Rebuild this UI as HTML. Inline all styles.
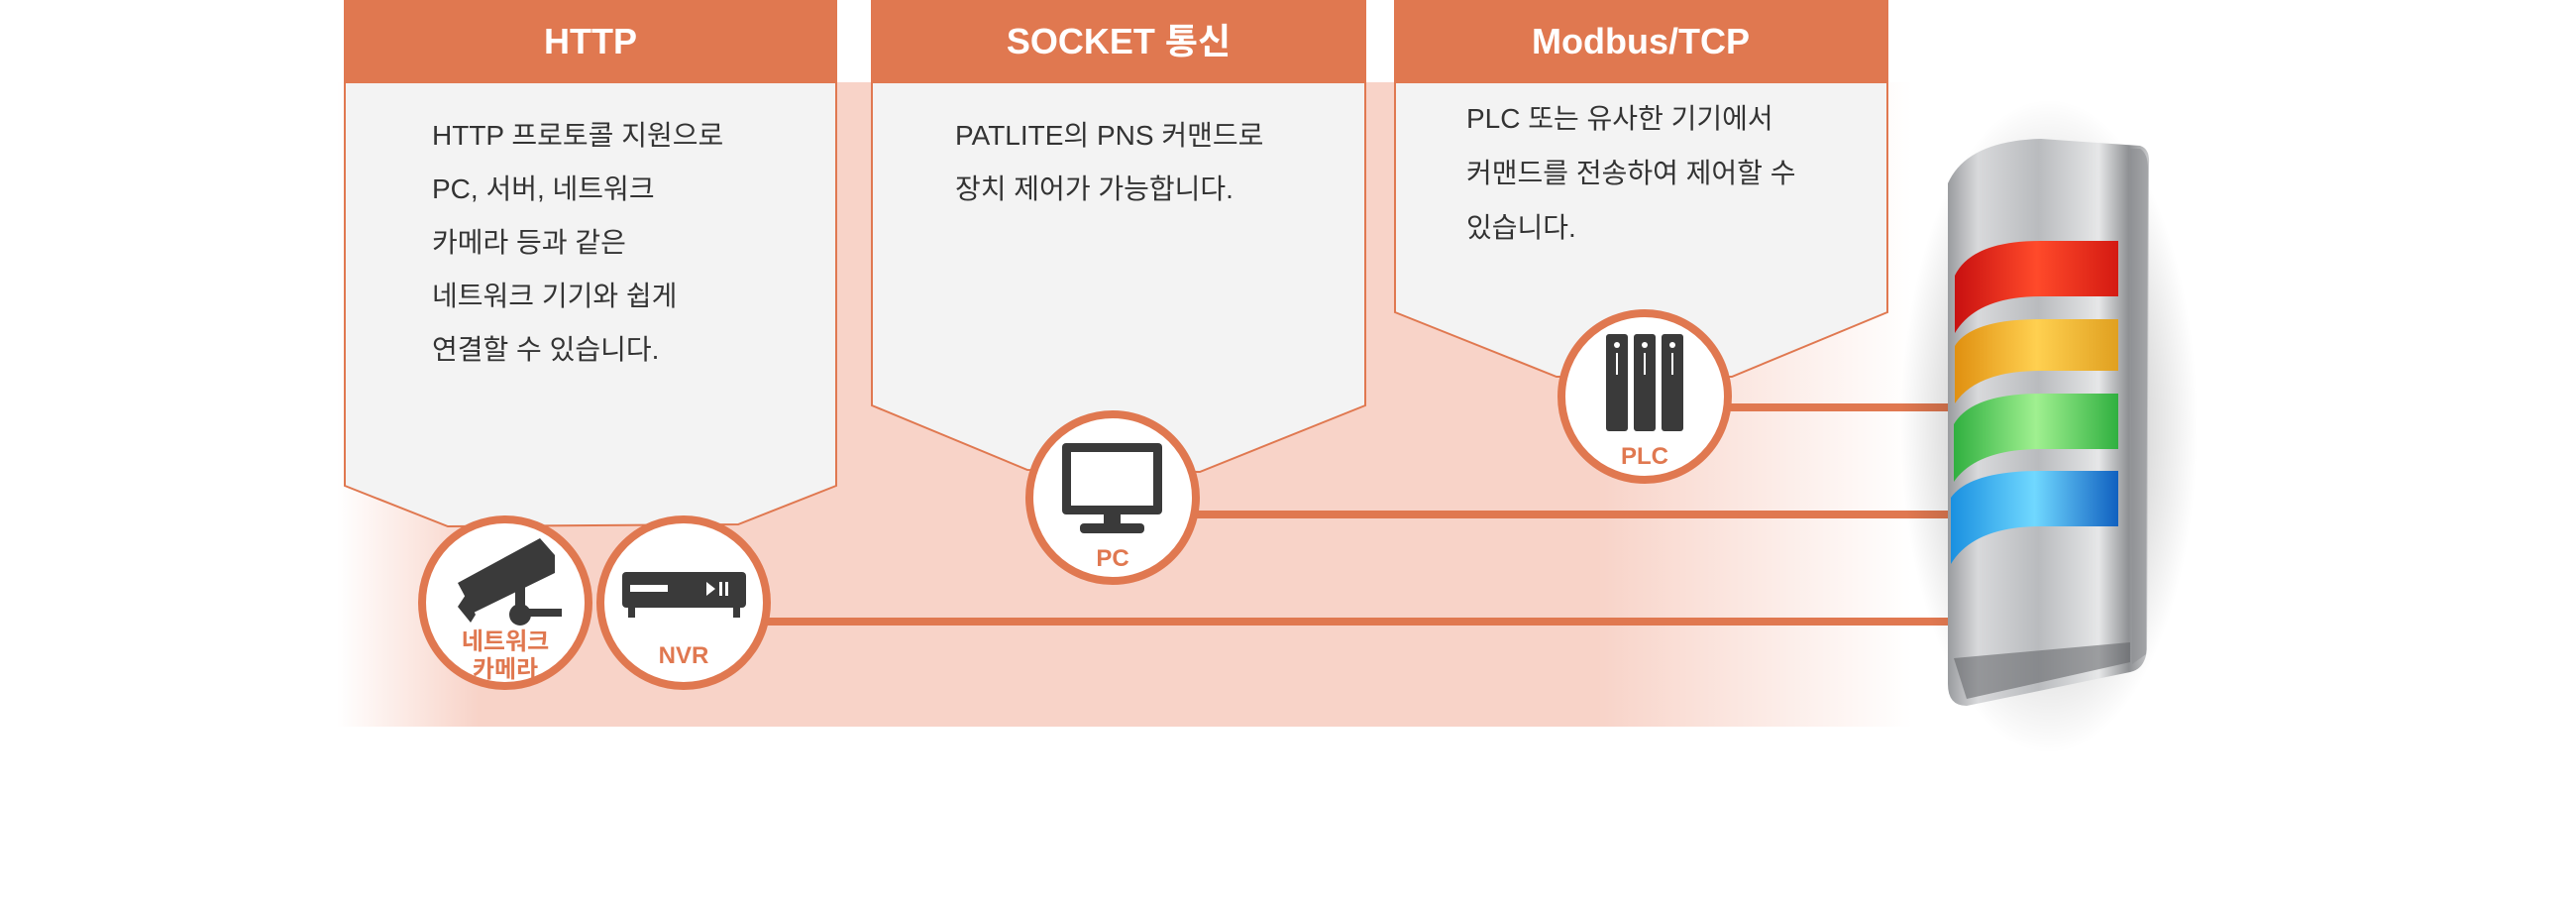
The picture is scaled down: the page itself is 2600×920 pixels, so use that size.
<!DOCTYPE html>
<html><head><meta charset="utf-8"><style>
html,body{margin:0;padding:0;background:#fff;}
svg{display:block;}
text{font-family:"Liberation Sans","Noto Sans CJK KR",sans-serif;}
</style></head><body>
<svg width="2600" height="920" viewBox="0 0 2600 920" xmlns="http://www.w3.org/2000/svg">
<defs>
<linearGradient id="pk" x1="0" x2="1" y1="0" y2="0">
<stop offset="0" stop-color="#f8d3c8" stop-opacity="0"/>
<stop offset="0.09" stop-color="#f8d3c8" stop-opacity="1"/>
<stop offset="0.8" stop-color="#f8d3c8" stop-opacity="1"/>
<stop offset="1" stop-color="#f8d3c8" stop-opacity="0"/>
</linearGradient>
<radialGradient id="sh" cx="0.5" cy="0.5" r="0.5">
<stop offset="0.6" stop-color="#000" stop-opacity="0.16"/>
<stop offset="1" stop-color="#000" stop-opacity="0"/>
</radialGradient>
<linearGradient id="met" x1="0" x2="1">
<stop offset="0" stop-color="#9a9c9f"/><stop offset="0.15" stop-color="#d8d9db"/>
<stop offset="0.45" stop-color="#b9bbbe"/><stop offset="0.75" stop-color="#e6e7e8"/>
<stop offset="0.9" stop-color="#8e9093"/><stop offset="1" stop-color="#c9cacc"/>
</linearGradient>
<linearGradient id="red" x1="0" x2="1"><stop offset="0" stop-color="#c81010"/><stop offset="0.5" stop-color="#ff4a2a"/><stop offset="1" stop-color="#d41a12"/></linearGradient>
<linearGradient id="amb" x1="0" x2="1"><stop offset="0" stop-color="#e09010"/><stop offset="0.5" stop-color="#ffd050"/><stop offset="1" stop-color="#e0a020"/></linearGradient>
<linearGradient id="grn" x1="0" x2="1"><stop offset="0" stop-color="#30b040"/><stop offset="0.5" stop-color="#a0f090"/><stop offset="1" stop-color="#30b040"/></linearGradient>
<linearGradient id="blu" x1="0" x2="1"><stop offset="0" stop-color="#1a90e0"/><stop offset="0.5" stop-color="#70d8ff"/><stop offset="1" stop-color="#1060c0"/></linearGradient>
</defs>

<rect x="340" y="83" width="1590" height="650" fill="url(#pk)"/>

<g stroke="#e07850" stroke-width="2" fill="#f3f3f3">
<polygon points="348,83 844,83 844,490 745,529 452,531 348,490"/>
<polygon points="880,83 1378,83 1378,409 1211,476 1037,474 880,409"/>
<polygon points="1408,83 1905,83 1905,315 1748,380 1571,380 1408,315"/>
</g>
<g fill="#e07850">
<rect x="347" y="0" width="498" height="84"/>
<rect x="879" y="0" width="500" height="84"/>
<rect x="1407" y="0" width="499" height="84"/>
</g>
<g fill="#fff" font-weight="bold" font-size="36" text-anchor="middle">
<text x="596" y="54">HTTP</text>
<text x="1129" y="54">SOCKET 통신</text>
<text x="1656" y="54">Modbus/TCP</text>
</g>
<g fill="#333" font-size="28">
<text x="436" y="146">HTTP 프로토콜 지원으로</text>
<text x="436" y="200">PC, 서버, 네트워크</text>
<text x="436" y="254">카메라 등과 같은</text>
<text x="436" y="308">네트워크 기기와 쉽게</text>
<text x="436" y="362">연결할 수 있습니다.</text>
<text x="964" y="146">PATLITE의 PNS 커맨드로</text>
<text x="964" y="200">장치 제어가 가능합니다.</text>
<text x="1480" y="129">PLC 또는 유사한 기기에서</text>
<text x="1480" y="184">커맨드를 전송하여 제어할 수</text>
<text x="1480" y="239">있습니다.</text>
</g>

<g stroke="#e07850" stroke-width="8">
<line x1="1740" y1="411" x2="1975" y2="411"/>
<line x1="1200" y1="519" x2="1972" y2="519"/>
<line x1="770" y1="627" x2="1968" y2="627"/>
</g>

<g fill="#fff" stroke="#e07850" stroke-width="8">
<circle cx="510" cy="608" r="84"/>
<circle cx="690" cy="608" r="84"/>
<circle cx="1123" cy="502" r="84"/>
<circle cx="1660" cy="400" r="84"/>
</g>

<g fill="#3a3a3a">
<polygon points="462,588 545,543 560,560 560,578 478,618"/>
<polygon points="470,600 480,620 475,628 462,612"/>
<rect x="520" y="590" width="10" height="28"/>
<circle cx="525" cy="620" r="11"/>
<rect x="525" y="614" width="42" height="8"/>
</g>
<g fill="#e07850" font-weight="bold" font-size="24" text-anchor="middle">
<text x="510" y="655">네트워크</text>
<text x="510" y="683">카메라</text>
<text x="690" y="669">NVR</text>
<text x="1123" y="571">PC</text>
<text x="1660" y="468">PLC</text>
</g>

<g>
<rect x="628" y="577" width="125" height="36" rx="4" fill="#3a3a3a"/>
<rect x="636" y="590" width="38" height="7" fill="#fff"/>
<polygon points="713,587 713,601 722,594" fill="#fff"/>
<rect x="726" y="587" width="3" height="14" fill="#fff"/>
<rect x="732" y="587" width="3" height="14" fill="#fff"/>
<rect x="634" y="613" width="7" height="10" fill="#3a3a3a"/>
<rect x="740" y="613" width="7" height="10" fill="#3a3a3a"/>
</g>

<g>
<rect x="1072" y="447" width="101" height="72" rx="4" fill="#3a3a3a"/>
<rect x="1081" y="456" width="83" height="54" fill="#fff"/>
<rect x="1114" y="519" width="17" height="10" fill="#3a3a3a"/>
<rect x="1090" y="528" width="65" height="10" rx="4" fill="#3a3a3a"/>
</g>

<g fill="#3a3a3a">
<rect x="1621" y="337" width="22" height="98" rx="3"/>
<rect x="1649" y="337" width="22" height="98" rx="3"/>
<rect x="1677" y="337" width="22" height="98" rx="3"/>
</g>
<g fill="#fff">
<circle cx="1632" cy="348" r="3"/><circle cx="1660" cy="348" r="3"/><circle cx="1688" cy="348" r="3"/>
<rect x="1631" y="356" width="2" height="22"/><rect x="1659" y="356" width="2" height="22"/><rect x="1687" y="356" width="2" height="22"/>
</g>

<ellipse cx="2068" cy="430" rx="150" ry="330" fill="url(#sh)"/>
<path d="M1966,185 Q1985,142 2060,140 L2160,147 Q2170,150 2169,165 L2167,655 Q2165,675 2150,678 L1985,712 Q1966,712 1966,690 Z" fill="url(#met)"/>
<path d="M2150,150 L2160,150 Q2168,155 2168,170 L2166,660 L2152,670 Z" fill="#8e9093" opacity="0.6"/>
<path d="M1972,664 L2150,648 L2150,668 L1985,705 Z" fill="#5e6064" opacity="0.55"/>
<path d="M1973,278 Q1990,243 2060,243 L2138,243 L2138,299 L2060,299 Q1995,299 1973,336 Z" fill="url(#red)"/>
<path d="M1973,349 Q1990,322 2060,322 L2138,322 L2138,374 L2060,374 Q1995,374 1973,407 Z" fill="url(#amb)"/>
<path d="M1972,428 Q1990,397 2060,397 L2138,397 L2138,453 L2060,453 Q1995,453 1972,486 Z" fill="url(#grn)"/>
<path d="M1969,502 Q1988,475 2060,475 L2138,475 L2138,531 L2060,531 Q1992,531 1969,569 Z" fill="url(#blu)"/>
</svg>
</body></html>
